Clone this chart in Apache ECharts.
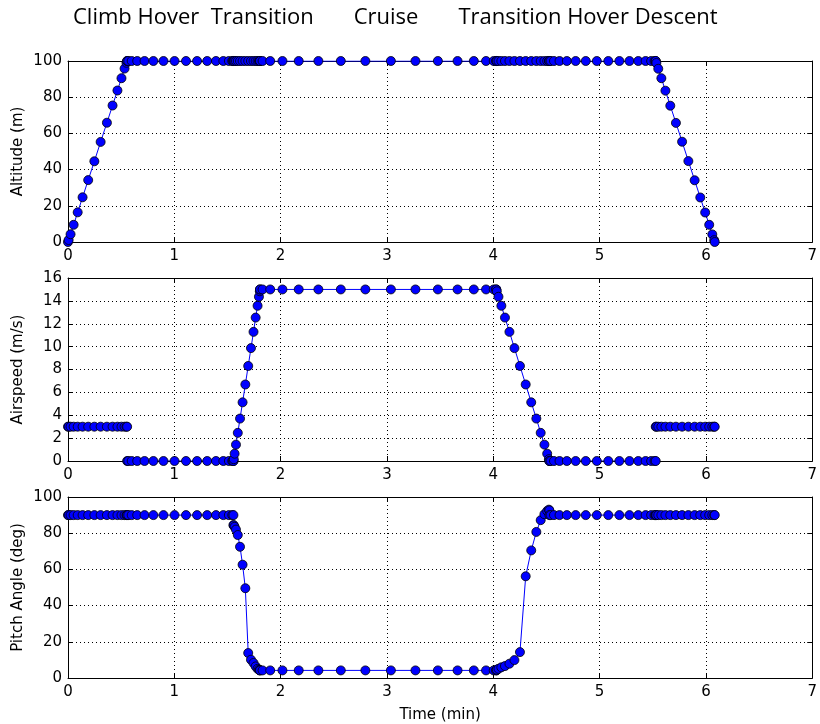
<!DOCTYPE html>
<html><head><meta charset="utf-8">
<script src="https://cdn.jsdelivr.net/npm/echarts@6/dist/echarts.min.js"></script>
<style>html,body{margin:0;padding:0;background:#fff}#c{width:820px;height:724px}</style>
</head><body><div id="c"></div>
<script>
// ---- Data (time in minutes) ----
const tClimb   = [0, 0.006, 0.024, 0.053, 0.091, 0.137, 0.190, 0.248, 0.307, 0.366, 0.419, 0.465, 0.503, 0.532, 0.550, 0.556];
const altClimb = [0, 1.1, 4.3, 9.5, 16.4, 24.7, 34.2, 44.6, 55.3, 65.9, 75.4, 83.7, 90.5, 95.8, 99.0, 100];
const airClimb = [3, 3, 3, 3, 3, 3, 3, 3, 3, 3, 3, 3, 3, 3, 3, 3];
const pitchClimb = [90, 90, 90, 90, 90, 90, 90, 90, 90, 90, 90, 90, 90, 90, 90, 90];

const tHover1   = [0.556, 0.567, 0.599, 0.651, 0.720, 0.803, 0.898, 1.002, 1.110, 1.214, 1.309, 1.392, 1.461, 1.513, 1.545, 1.556];
const altHover1 = [100, 100, 100, 100, 100, 100, 100, 100, 100, 100, 100, 100, 100, 100, 100, 100];
const airHover1 = [0, 0, 0, 0, 0, 0, 0, 0, 0, 0, 0, 0, 0, 0, 0, 0];
const pitchHover1 = [90, 90, 90, 90, 90, 90, 90, 90, 90, 90, 90, 90, 90, 90, 90, 90];

const tTrans1   = [1.556, 1.559, 1.567, 1.580, 1.597, 1.618, 1.642, 1.668, 1.695, 1.721, 1.745, 1.765, 1.783, 1.796, 1.804, 1.806];
const altTrans1 = [100, 100, 100, 100, 100, 100, 100, 100, 100, 100, 100, 100, 100, 100, 100, 100];
const airTrans1 = [0, 0.16, 0.64, 1.43, 2.46, 3.71, 5.13, 6.69, 8.31, 9.87, 11.29, 12.54, 13.57, 14.36, 14.84, 15];
const pitchTrans1 = [84.5, 84.3, 83.5, 82, 79, 72.5, 62.6, 49.6, 13.8, 10.1, 8.3, 6.4, 5.1, 4.6, 4.3, 4.2];

const tCruise   = [1.806, 1.830, 1.902, 2.017, 2.170, 2.355, 2.566, 2.797, 3.037, 3.268, 3.479, 3.664, 3.817, 3.932, 4.004, 4.028];
const altCruise = [100, 100, 100, 100, 100, 100, 100, 100, 100, 100, 100, 100, 100, 100, 100, 100];
const airCruise = [15, 15, 15, 15, 15, 15, 15, 15, 15, 15, 15, 15, 15, 15, 15, 15];
const pitchCruise = [4.2, 4.2, 4.2, 4.2, 4.2, 4.2, 4.2, 4.2, 4.2, 4.2, 4.2, 4.2, 4.2, 4.2, 4.2, 4.2];

const tTrans2   = [4.028, 4.033, 4.049, 4.076, 4.110, 4.152, 4.199, 4.251, 4.305, 4.357, 4.405, 4.446, 4.481, 4.507, 4.523, 4.528];
const altTrans2 = [100, 100, 100, 100, 100, 100, 100, 100, 100, 100, 100, 100, 100, 100, 100, 100];
const airTrans2 = [15, 14.84, 14.36, 13.57, 12.54, 11.29, 9.87, 8.31, 6.69, 5.13, 3.71, 2.46, 1.43, 0.64, 0.16, 0];
const pitchTrans2 = [4.2, 4.6, 5.1, 5.9, 6.6, 7.9, 9.9, 14.3, 56.2, 70.5, 80.7, 87.2, 90.5, 92.3, 93.0, 92.6];

const tHover2   = [4.528, 4.539, 4.571, 4.623, 4.692, 4.775, 4.870, 4.974, 5.082, 5.186, 5.281, 5.364, 5.433, 5.485, 5.517, 5.528];
const altHover2 = [100, 100, 100, 100, 100, 100, 100, 100, 100, 100, 100, 100, 100, 100, 100, 100];
const airHover2 = [0, 0, 0, 0, 0, 0, 0, 0, 0, 0, 0, 0, 0, 0, 0, 0];
const pitchHover2 = [90, 90, 90, 90, 90, 90, 90, 90, 90, 90, 90, 90, 90, 90, 90, 90];

const tDescent   = [5.528, 5.534, 5.552, 5.581, 5.619, 5.665, 5.718, 5.776, 5.835, 5.894, 5.947, 5.993, 6.031, 6.060, 6.078, 6.083];
const altDescent = [100, 98.9, 95.7, 90.5, 83.6, 75.3, 65.8, 55.4, 44.7, 34.1, 24.6, 16.3, 9.5, 4.2, 1.0, 0];
const airDescent = [3, 3, 3, 3, 3, 3, 3, 3, 3, 3, 3, 3, 3, 3, 3, 3];
const pitchDescent = [90, 90, 90, 90, 90, 90, 90, 90, 90, 90, 90, 90, 90, 90, 90, 90];

const segmentLabels = ['Climb', 'Hover', 'Transition', 'Cruise', 'Transition', 'Hover', 'Descent'];
const panelNames = ['Altitude (m)', 'Airspeed (m/s)', 'Pitch Angle (deg)'];
const xTitle = 'Time (min)';
const xTicks = [0, 1, 2, 3, 4, 5, 6, 7];
const yMax = [100, 16, 100];
const yStep = [20, 2, 20];

// ---- Build ----
const segments = [
  [tClimb, altClimb, airClimb, pitchClimb],
  [tHover1, altHover1, airHover1, pitchHover1],
  [tTrans1, altTrans1, airTrans1, pitchTrans1],
  [tCruise, altCruise, airCruise, pitchCruise],
  [tTrans2, altTrans2, airTrans2, pitchTrans2],
  [tHover2, altHover2, airHover2, pitchHover2],
  [tDescent, altDescent, airDescent, pitchDescent]
];

const gridTops = [61, 278, 497];
const gridHeights = [181, 183, 181];
const FONT = 'DejaVu Sans';
const grids = gridTops.map((t, i) => ({left: 68, width: 748, top: t, height: gridHeights[i], containLabel: false}));

const xAxes = [], yAxes = [];
for (let i = 0; i < 3; i++) {
  xAxes.push({
    type: 'value', gridIndex: i, min: xTicks[0], max: xTicks[xTicks.length - 1], interval: 1,
    axisLine: {show: true, onZero: false, lineStyle: {color: '#000', width: 1}},
    axisTick: {show: true, inside: true, length: 5, lineStyle: {color: '#000'}},
    axisLabel: {fontFamily: FONT, fontSize: 15, color: '#000', margin: 7},
    splitLine: {show: true, lineStyle: {color: '#000', width: 1, type: [1, 3]}},
    name: i === 2 ? xTitle : '', nameLocation: 'middle', nameGap: 30, nameMoveOverlap: false,
    nameTextStyle: {fontFamily: FONT, fontSize: 15, color: '#000'}
  });
  yAxes.push({
    type: 'value', gridIndex: i, min: 0, max: yMax[i], interval: yStep[i],
    axisLine: {show: true, onZero: false, lineStyle: {color: '#000', width: 1}},
    axisTick: {show: true, inside: true, length: 5, lineStyle: {color: '#000'}},
    axisLabel: {fontFamily: FONT, fontSize: 15, color: '#000', margin: 6},
    splitLine: {show: true, lineStyle: {color: '#000', width: 1, type: [1, 3]}},
    name: panelNames[i], nameLocation: 'middle', nameRotate: 90, nameGap: 42, nameMoveOverlap: false,
    nameTextStyle: {fontFamily: FONT, fontSize: 15, color: '#000'}
  });
}
for (let i = 0; i < 3; i++) {
  xAxes.push({
    type: 'value', gridIndex: i, position: 'top', min: 0, max: 7, interval: 1,
    axisLine: {show: true, onZero: false, lineStyle: {color: '#000', width: 1}},
    axisTick: {show: true, inside: true, length: 5, lineStyle: {color: '#000'}},
    axisLabel: {show: false}, splitLine: {show: false}
  });
  yAxes.push({
    type: 'value', gridIndex: i, position: 'right', min: 0, max: yMax[i], interval: yStep[i],
    axisLine: {show: true, onZero: false, lineStyle: {color: '#000', width: 1}},
    axisTick: {show: true, inside: true, length: 5, lineStyle: {color: '#000'}},
    axisLabel: {show: false}, splitLine: {show: false}
  });
}

const series = [];
for (let p = 0; p < 3; p++) {
  segments.forEach((seg) => {
    const t = seg[0], v = seg[p + 1];
    series.push({
      type: 'line', xAxisIndex: p, yAxisIndex: p,
      data: t.map((x, k) => [x, v[k]]),
      showAllSymbol: true, symbol: 'circle', symbolSize: 9,
      lineStyle: {color: '#0000ff', width: 1},
      itemStyle: {color: '#0000ff', borderColor: '#000', borderWidth: 0.8},
      emphasis: {disabled: true}, silent: true, clip: true
    });
  });
}

const chart = echarts.init(document.getElementById('c'), null, {renderer: 'canvas'});
chart.setOption({
  animation: false,
  backgroundColor: '#fff',
  grid: grids, xAxis: xAxes, yAxis: yAxes, series: series,
  graphic: [{
    type: 'text', left: 73, top: 7,
    style: {text: segmentLabels[0] + ' ' + segmentLabels[1] + '  ' + segmentLabels[2] + '       ' + segmentLabels[3] + '       ' + segmentLabels[4] + ' ' + segmentLabels[5] + ' ' + segmentLabels[6],
            font: '22px "Open Sans"', fill: '#000'}
  }]
});
</script></body></html>
